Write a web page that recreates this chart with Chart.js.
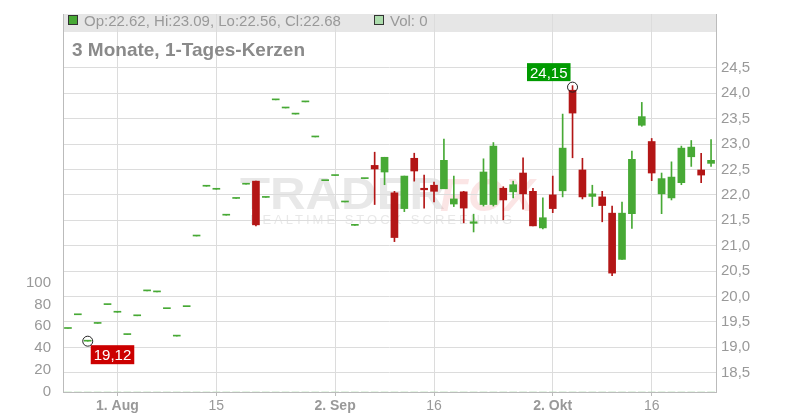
<!DOCTYPE html>
<html>
<head>
<meta charset="utf-8">
<script src="https://cdn.jsdelivr.net/npm/chart.js@4/dist/chart.umd.min.js"></script>
<style>
  html, body { margin: 0; background: #fff; }
  #wrap { width: 800px; height: 420px; }
</style>
</head>
<body>
<div id="wrap"><canvas id="kerzen"></canvas></div>
<script>
// Handelstage (Xetra), 25.07. bis 24.10.
var tage = ["25.07.","26.07.","29.07.","30.07.","31.07.",
  "01.08.","02.08.","05.08.","06.08.","07.08.","08.08.","09.08.","12.08.","13.08.","14.08.","15.08.","16.08.",
  "19.08.","20.08.","21.08.","22.08.","23.08.","26.08.","27.08.","28.08.","29.08.","30.08.",
  "02.09.","03.09.","04.09.","05.09.","06.09.","09.09.","10.09.","11.09.","12.09.","13.09.","16.09.","17.09.",
  "18.09.","19.09.","20.09.","23.09.","24.09.","25.09.","26.09.","27.09.","30.09.",
  "01.10.","02.10.","03.10.","04.10.","07.10.","08.10.","09.10.","10.10.","11.10.","14.10.","15.10.","16.10.",
  "17.10.","18.10.","21.10.","22.10.","23.10.","24.10."];

var eroeffnung = [19.37,19.64,19.12,19.47,19.84,19.69,19.25,19.62,20.11,20.09,19.76,19.22,19.80,21.19,22.17,22.11,21.60,
  21.93,22.21,22.27,21.95,23.87,23.71,23.59,23.83,23.14,22.28,22.38,21.86,21.40,22.32,22.58,22.45,22.04,21.73,22.72,
  22.13,22.19,22.12,21.82,22.06,21.44,21.81,21.81,22.13,22.06,22.43,22.07,21.35,22.00,22.08,24.06,22.49,21.97,21.96,
  21.64,20.73,21.63,23.37,23.05,22.02,21.94,22.24,22.75,22.49,22.62];
var hoch = [19.37,19.64,19.12,19.47,19.84,19.69,19.25,19.62,20.11,20.09,19.76,19.22,19.80,21.19,22.17,22.11,21.60,
  21.93,22.21,22.27,21.95,23.87,23.71,23.59,23.83,23.14,22.28,22.38,21.86,21.40,22.32,22.84,22.74,22.07,22.37,22.82,
  22.39,22.25,23.10,22.37,22.07,21.62,22.71,23.03,22.16,22.27,22.73,22.13,21.94,22.37,23.59,24.15,22.72,22.19,22.07,
  21.78,21.86,22.86,23.82,23.11,22.43,22.65,22.96,23.07,22.82,23.09];
var tief = [19.37,19.64,19.12,19.47,19.84,19.69,19.25,19.62,20.11,20.09,19.76,19.22,19.80,21.19,22.17,22.11,21.60,
  21.93,22.21,21.39,21.95,23.87,23.71,23.59,23.83,23.14,22.28,22.38,21.86,21.40,22.32,21.81,22.20,21.08,21.67,22.27,
  21.74,21.86,22.12,21.77,21.45,21.27,21.78,21.78,21.51,21.94,21.72,21.39,21.33,21.65,21.96,22.73,21.92,21.77,21.47,
  20.41,20.73,21.34,23.35,22.28,21.63,21.90,22.20,22.56,22.24,22.56];
var schluss = [19.37,19.64,19.12,19.47,19.84,19.69,19.25,19.62,20.11,20.09,19.76,19.22,19.80,21.19,22.17,22.11,21.60,
  21.93,22.21,21.41,21.95,23.87,23.71,23.59,23.83,23.14,22.28,22.38,21.86,21.40,22.32,22.51,22.74,21.16,22.37,22.47,
  22.10,22.07,22.68,21.92,21.74,21.47,22.45,22.96,21.90,22.20,22.02,21.39,21.55,21.73,22.92,23.61,21.96,22.02,21.79,
  20.46,21.64,22.70,23.54,22.43,22.32,22.35,22.92,22.94,22.39,22.68];
var volumen = [0,0,0,0,0,0,0,0,0,0,0,0,0,0,0,0,0,0,0,0,0,0,0,0,0,0,0,0,0,0,0,0,0,0,0,0,0,0,0,0,0,0,0,0,0,0,0,0,0,0,0,0,0,0,0,0,0,0,0,0,0,0,0,0,0,0];

// Achsenbeschriftung
var xTickTage = ["01.08.","15.08.","02.09.","16.09.","02.10.","16.10."];
var xTickText = ["1. Aug","15","2. Sep","16","2. Okt","16"];
var xTickFett = [true,false,true,false,true,false];
var preisTicks = [18.5,19,19.5,20,20.5,21,21.5,22,22.5,23,23.5,24,24.5];
var volTicks = [0,20,40,60,80,100];

var GRUEN = '#47a935';
var ROT = '#b31616';
var SCHRIFT = '"Liberation Sans", Arial, sans-serif';

var farben = schluss.map(function(c, i){ return c >= eroeffnung[i] ? GRUEN : ROT; });

function komma(v, n){ return v.toFixed(n).replace('.', ','); }

var kopfPlugin = {
  id: 'kopf',
  beforeDraw: function(chart){
    var ctx = chart.ctx, a = chart.chartArea;
    ctx.save();
    // grauer Kopfbalken
    ctx.fillStyle = '#e6e6e6';
    ctx.fillRect(a.left, a.top, a.right - a.left, 18);

    // Wasserzeichen
    ctx.fillStyle = 'rgba(205,205,205,0.45)';
    ctx.font = 'bold 44px ' + SCHRIFT;
    var w = ctx.measureText('TRADER').width;
    ctx.save();
    ctx.translate(240, 209);
    ctx.scale(205 / w, 1);
    ctx.fillText('TRADER', 0, 0);
    ctx.restore();
    ctx.fillStyle = 'rgba(235,110,110,0.18)';
    ctx.font = 'italic bold 46px ' + SCHRIFT;
    ctx.fillText('FOX', 440, 211);
    ctx.fillStyle = 'rgba(205,205,205,0.45)';
    ctx.font = '13px ' + SCHRIFT;
    if ('letterSpacing' in ctx) ctx.letterSpacing = '3px';
    ctx.fillText('REALTIME STOCK SCREENING', 250, 224);
    if ('letterSpacing' in ctx) ctx.letterSpacing = '0px';
    ctx.restore();
  },
  afterDraw: function(chart){
    var ctx = chart.ctx;
    var n = schluss.length - 1;
    ctx.save();
    ctx.textBaseline = 'alphabetic';
    // Legende im Kopf
    ctx.fillStyle = GRUEN;
    ctx.fillRect(68.5, 15.5, 9, 9);
    ctx.strokeStyle = '#333';
    ctx.lineWidth = 1;
    ctx.strokeRect(68.5, 15.5, 9, 9);
    ctx.fillStyle = '#999';
    ctx.font = '15px ' + SCHRIFT;
    ctx.fillText('Op:' + eroeffnung[n].toFixed(2) + ', Hi:' + hoch[n].toFixed(2) + ', Lo:' + tief[n].toFixed(2) +
      ', Cl:' + schluss[n].toFixed(2), 84, 26);
    ctx.fillStyle = '#acdcac';
    ctx.fillRect(374.5, 15.5, 9, 9);
    ctx.strokeRect(374.5, 15.5, 9, 9);
    ctx.fillStyle = '#999';
    ctx.fillText('Vol: ' + volumen[n], 390, 26);

    // Titel
    ctx.fillStyle = '#8a8a8a';
    ctx.font = 'bold 19px ' + SCHRIFT;
    ctx.fillText('3 Monate, 1-Tages-Kerzen', 72, 56);

    // Hoch- und Tiefmarke
    var iHoch = hoch.indexOf(Math.max.apply(null, hoch));
    var iTief = tief.indexOf(Math.min.apply(null, tief));
    var xs = chart.scales.x, ys = chart.scales.y;
    ctx.font = '15px ' + SCHRIFT;

    var hx = xs.getPixelForValue(iHoch), hy = ys.getPixelForValue(hoch[iHoch]) + 1.5;
    var ht = komma(hoch[iHoch], 2), hw = ctx.measureText(ht).width + 6;
    ctx.fillStyle = '#009a00';
    ctx.fillRect(hx - 2 - hw, hy - 24, hw, 18);
    ctx.fillStyle = '#fff';
    ctx.fillText(ht, hx - 2 - hw + 3, hy - 9);
    ctx.beginPath();
    ctx.arc(hx, hy, 5, 0, Math.PI * 2);
    ctx.strokeStyle = '#222';
    ctx.stroke();

    var tx = xs.getPixelForValue(iTief), ty = ys.getPixelForValue(tief[iTief]);
    var tt = komma(tief[iTief], 2), tw = ctx.measureText(tt).width + 6;
    ctx.fillStyle = '#cc0000';
    ctx.fillRect(tx + 3, ty + 4, tw, 19);
    ctx.fillStyle = '#fff';
    ctx.fillText(tt, tx + 6, ty + 19);
    ctx.beginPath();
    ctx.arc(tx, ty, 5, 0, Math.PI * 2);
    ctx.strokeStyle = '#222';
    ctx.stroke();
    ctx.restore();
  }
};

var chart = new Chart(document.getElementById('kerzen'), {
  type: 'bar',
  data: {
    labels: tage,
    datasets: [{
      label: 'Docht',
      data: tief.map(function(l, i){ return [l, hoch[i]]; }),
      backgroundColor: farben,
      barThickness: 1,
      grouped: false,
      yAxisID: 'y',
      order: 2
    }, {
      label: 'Kerze',
      data: eroeffnung.map(function(o, i){ return [o, schluss[i]]; }),
      backgroundColor: farben,
      barThickness: 7,
      minBarLength: 1,
      grouped: false,
      yAxisID: 'y',
      order: 1
    }, {
      label: 'Volumen',
      data: volumen,
      backgroundColor: '#acdcac',
      barThickness: 7,
      grouped: false,
      yAxisID: 'yVol',
      order: 3
    }]
  },
  options: {
    responsive: true,
    maintainAspectRatio: false,
    animation: false,
    devicePixelRatio: 1,
    layout: { padding: { top: 12, left: 0, right: 0, bottom: 0 } },
    plugins: { legend: { display: false }, tooltip: { enabled: false } },
    scales: {
      x: {
        offset: true,
        grid: { offset: false, color: '#dcdcdc', tickLength: 4, tickColor: '#bbb' },
        border: { color: '#bbb' },
        ticks: {
          autoSkip: false,
          maxRotation: 0,
          padding: 2,
          color: '#999',
          font: function(c){
            var lbl = c.tick ? c.tick.label : null;
            var k = xTickText.indexOf(lbl);
            return { family: SCHRIFT, size: 14, weight: (k >= 0 && xTickFett[k]) ? 'bold' : 'normal' };
          },
          callback: function(v){
            var k = xTickTage.indexOf(this.getLabelForValue(v));
            return k >= 0 ? xTickText[k] : null;
          }
        },
        afterFit: function(s){ s.height = 28; }
      },
      y: {
        position: 'right',
        min: 18.12,
        max: 25.56,
        afterBuildTicks: function(s){ s.ticks = preisTicks.map(function(v){ return { value: v }; }); },
        grid: { color: '#dcdcdc', drawTicks: false },
        border: { color: '#bbb' },
        ticks: {
          padding: 5,
          color: '#999',
          font: { family: SCHRIFT, size: 15 },
          callback: function(v){ return komma(v, 1); }
        },
        afterFit: function(s){ s.width = 84; }
      },
      yVol: {
        position: 'left',
        min: 0,
        max: 345.5,
        afterBuildTicks: function(s){ s.ticks = volTicks.map(function(v){ return { value: v }; }); },
        grid: { display: false },
        border: { color: '#bbb' },
        ticks: {
          padding: 4,
          color: '#999',
          font: { family: SCHRIFT, size: 15 }
        },
        afterFit: function(s){ s.width = 63; }
      }
    }
  },
  plugins: [kopfPlugin]
});
</script>
</body>
</html>
